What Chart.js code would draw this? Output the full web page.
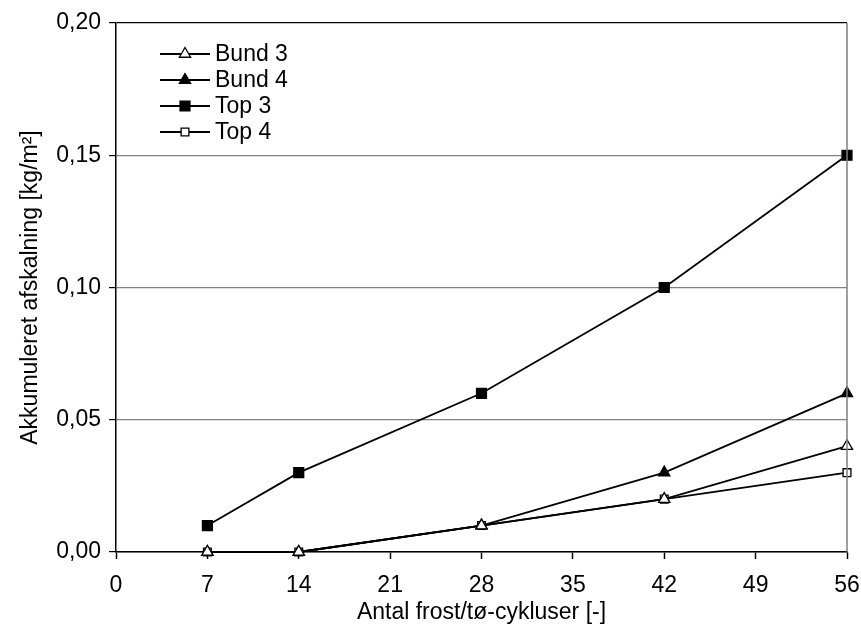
<!DOCTYPE html>
<html>
<head>
<meta charset="utf-8">
<script src="https://cdn.jsdelivr.net/npm/chart.js@4"></script>
<style>
  html, body { margin: 0; padding: 0; background: #fff; }
  #wrap { width: 861px; height: 625px; }
</style>
</head>
<body>
<div id="wrap"><canvas id="chart"></canvas></div>
<script>
// ─── DATA ─────────────────────────────────────────────────
const cycles = [7, 14, 28, 42, 56];
const bund3 = [0, 0, 0.01, 0.02, 0.04];
const bund4 = [0, 0, 0.01, 0.03, 0.06];
const top3  = [0.01, 0.03, 0.06, 0.10, 0.15];
const top4  = [0, 0, 0.01, 0.02, 0.03];
const seriesNames = ['Bund 3', 'Bund 4', 'Top 3', 'Top 4'];
const xTitle = 'Antal frost/tø-cykluser [-]';
const yTitle = 'Akkumuleret afskalning [kg/m²]';

const FONT = 'Liberation Sans, Arial, sans-serif';
const FSIZE = 23;
const pts = vals => cycles.map((c, i) => ({ x: c, y: vals[i] }));

function series(label, vals, style, fill, radius) {
    return {
        label,
        data: pts(vals),
        borderColor: '#000',
        borderWidth: 1.8,
        pointStyle: style,
        pointRadius: radius,
        pointHoverRadius: radius,
        pointBackgroundColor: fill,
        pointBorderColor: '#000',
        pointBorderWidth: 1.3,
        tension: 0,
        clip: false,
    };
}

// ─── LEGEND (line through marker) + right frame ───────────
const lineLegend = {
    id: 'lineLegend',
    afterDraw(chart) {
        const { ctx, chartArea } = chart;
        const x0 = chartArea.left + 44, x1 = chartArea.left + 94;
        const xm = (x0 + x1) / 2;
        ctx.save();
        chart.data.datasets.forEach((ds, i) => {
            const y = chartArea.top + 31 + i * 26;
            ctx.strokeStyle = '#000';
            ctx.lineWidth = 1.8;
            ctx.beginPath();
            ctx.moveTo(x0, y);
            ctx.lineTo(x1, y);
            ctx.stroke();
            ctx.fillStyle = ds.pointBackgroundColor;
            ctx.lineWidth = ds.pointBorderWidth;
            Chart.helpers.drawPoint(ctx, {
                pointStyle: ds.pointStyle,
                radius: ds.pointRadius,
                rotation: 0,
                borderWidth: ds.pointBorderWidth
            }, xm, y);
            ctx.fillStyle = '#000';
            ctx.font = `${FSIZE}px ${FONT}`;
            ctx.textBaseline = 'middle';
            ctx.textAlign = 'left';
            ctx.fillText(ds.label, x1 + 5, y + 1);
        });
        ctx.strokeStyle = '#808080';
        ctx.lineWidth = 1.5;
        ctx.beginPath();
        ctx.moveTo(chartArea.right, chartArea.top);
        ctx.lineTo(chartArea.right, chartArea.bottom);
        ctx.stroke();
        ctx.restore();
    }
};

new Chart(document.getElementById('chart'), {
    type: 'line',
    data: {
        datasets: [
            series(seriesNames[0], bund3, 'triangle', '#fff', 6.5),
            series(seriesNames[1], bund4, 'triangle', '#000', 6.5),
            series(seriesNames[2], top3, 'rect', '#000', 7),
            series(seriesNames[3], top4, 'rect', '#fff', 5.5),
        ]
    },
    options: {
        responsive: true,
        maintainAspectRatio: false,
        animation: false,
        layout: { padding: { left: 0, right: 14, top: 23, bottom: 0 } },
        plugins: {
            legend: { display: false },
            tooltip: { enabled: false }
        },
        scales: {
            x: {
                type: 'linear',
                min: 0, max: 56,
                afterFit: s => { s.height = 73; s.paddingLeft = 0; s.paddingRight = 0; },
                grid: { drawOnChartArea: false, tickColor: '#000', tickLength: 7, tickWidth: 1.5 },
                border: { color: '#000', width: 1.5 },
                ticks: {
                    stepSize: 7,
                    padding: 13,
                    color: '#000',
                    font: { family: FONT, size: FSIZE }
                },
                title: {
                    display: true,
                    text: xTitle,
                    color: '#000',
                    padding: { top: 0, bottom: 0 },
                    font: { family: FONT, size: FSIZE, lineHeight: 1.05 }
                }
            },
            y: {
                min: 0, max: 0.2,
                afterFit: s => { s.width = 116; },
                grid: {
                    color: c => (c.tick && c.tick.value > 0.199) ? '#000' : '#808080',
                    lineWidth: 1.2,
                    tickColor: '#000',
                    tickLength: 7
                },
                border: { color: '#000', width: 1.5 },
                ticks: {
                    stepSize: 0.05,
                    padding: 8,
                    color: '#000',
                    font: { family: FONT, size: FSIZE },
                    callback: v => v.toFixed(2).replace('.', ',')
                },
                title: {
                    display: true,
                    text: yTitle,
                    color: '#000',
                    padding: { top: 17, bottom: 0 },
                    font: { family: FONT, size: FSIZE }
                }
            }
        }
    },
    plugins: [lineLegend]
});
</script>
</body>
</html>
